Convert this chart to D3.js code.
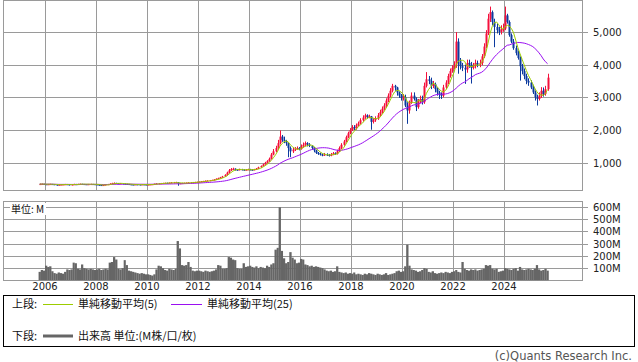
<!DOCTYPE html>
<html><head><meta charset="utf-8">
<script src="https://cdn.jsdelivr.net/npm/d3@7"></script>
<style>body{margin:0;background:#fff;} svg{display:block;}</style>
</head><body>
<svg id="c" width="638" height="362"></svg>
<script>
// ---------- DATA (monthly, Oct 2005 - Sep 2025) ----------
const startMonth = "2005-10";
const open = [
  335, 350, 355,
  345, 340, 345, 350, 345, 330, 325, 330, 335, 340, 345, 340,
  320, 335, 345, 340, 350, 355, 350, 345, 340, 345, 350, 345,
  340, 330, 320, 310, 320, 335, 345, 360, 375, 385, 370, 365,
  370, 360, 355, 350, 340, 335, 330, 340, 335, 330, 340, 335,
  330, 335, 340, 345, 355, 365, 370, 375, 380, 385, 380, 390,
  395, 400, 405, 360, 375, 380, 385, 390, 395, 400, 405, 410,
  415, 420, 430, 440, 450, 455, 465, 475, 490, 510, 530, 555,
  580, 630, 700, 770, 810, 820, 790, 780, 800, 790, 780, 790,
  800, 790, 780, 800, 820, 860, 900, 950, 1000, 1050, 1120, 1250,
  1350, 1450, 1600, 1800, 1700, 1650, 1600, 1450, 1350, 1400, 1430, 1450,
  1420, 1500, 1550, 1600, 1560, 1520, 1450, 1380, 1300, 1280, 1250, 1230,
  1250, 1240, 1220, 1260, 1290, 1270, 1350, 1450, 1550, 1650, 1780, 1900,
  2000, 2090, 2050, 2150, 2200, 2300, 2380, 2450, 2400, 2420, 2250, 2300,
  2350, 2450, 2550, 2650, 2750, 2900, 3050, 3200, 3350, 3300, 3150, 3050,
  2980, 3000, 2750, 2600, 2850, 3050, 2950, 2700, 2900, 2950, 2850, 3350,
  3550, 3500, 3350, 3400, 3250, 3150, 3100, 3050, 3300, 3450, 3650, 3800,
  3900, 4000, 4700, 4100, 3950, 3900, 3850, 4050, 4000, 3900, 3950, 4050,
  4000, 4050, 4250, 4550, 4950, 5400, 5600, 5300, 5150, 5050, 5000, 5100,
  5100, 5500, 5300, 4900, 4700, 4500, 4350, 4200, 3950, 3800, 3650, 3500,
  3450, 3300, 3150, 3000, 2950, 3050, 3200, 3100, 3250
];
const high = [
  365, 365, 360,
  350, 355, 360, 355, 350, 340, 340, 345, 350, 355, 350, 345,
  345, 360, 355, 360, 365, 360, 355, 350, 355, 360, 355, 350,
  345, 335, 325, 330, 345, 355, 375, 390, 400, 390, 380, 380,
  375, 370, 360, 355, 345, 340, 350, 345, 340, 350, 345, 340,
  340, 345, 350, 365, 375, 380, 385, 390, 395, 395, 400, 410,
  415, 420, 410, 385, 390, 395, 400, 405, 410, 415, 420, 425,
  430, 440, 450, 460, 465, 475, 485, 500, 525, 545, 570, 600,
  650, 730, 810, 840, 850, 830, 810, 820, 815, 805, 810, 820,
  815, 800, 815, 840, 880, 920, 975, 1030, 1080, 1160, 1300, 1420,
  1520, 1700, 1990, 1850, 1800, 1700, 1620, 1500, 1460, 1480, 1500, 1480,
  1560, 1620, 1650, 1630, 1600, 1540, 1480, 1400, 1330, 1310, 1280, 1300,
  1290, 1270, 1300, 1330, 1320, 1400, 1500, 1600, 1700, 1830, 1950, 2060,
  2150, 2150, 2200, 2260, 2360, 2450, 2500, 2480, 2470, 2430, 2360, 2420,
  2520, 2620, 2720, 2820, 2970, 3120, 3280, 3410, 3380, 3320, 3180, 3100,
  3100, 3080, 2850, 2900, 3150, 3150, 3000, 2950, 3050, 3050, 3450, 3770,
  3650, 3600, 3500, 3450, 3300, 3200, 3150, 3380, 3520, 3720, 3880, 3980,
  4100, 4990, 4800, 4200, 4050, 4000, 4150, 4150, 4080, 4050, 4150, 4120,
  4150, 4320, 4650, 5050, 5550, 5770, 5650, 5400, 5250, 5150, 5200, 5250,
  5770, 5550, 5350, 4950, 4780, 4580, 4430, 4250, 4020, 3880, 3720, 3580,
  3520, 3380, 3210, 3080, 3150, 3310, 3300, 3350, 3720
];
const low = [
  325, 340, 335,
  330, 335, 335, 335, 320, 315, 315, 325, 330, 335, 330, 310,
  315, 330, 330, 335, 345, 340, 335, 330, 335, 340, 335, 330,
  320, 305, 300, 305, 315, 330, 340, 355, 365, 355, 350, 355,
  345, 345, 340, 330, 325, 320, 325, 325, 320, 325, 325, 320,
  320, 325, 335, 340, 350, 355, 360, 365, 370, 365, 375, 380,
  385, 390, 300, 350, 365, 370, 375, 380, 385, 390, 395, 400,
  405, 410, 420, 430, 440, 445, 455, 465, 480, 500, 520, 545,
  570, 610, 680, 750, 780, 760, 760, 770, 770, 760, 770, 780,
  770, 760, 770, 790, 810, 850, 890, 940, 985, 1030, 1100, 1230,
  1320, 1420, 1560, 1640, 1600, 1520, 1170, 1170, 1300, 1360, 1400, 1380,
  1400, 1460, 1500, 1500, 1480, 1400, 1320, 1270, 1240, 1220, 1200, 1210,
  1210, 1190, 1200, 1230, 1240, 1250, 1330, 1420, 1520, 1620, 1750, 1870,
  1970, 2000, 2010, 2110, 2170, 2260, 2340, 2350, 2360, 2010, 2200, 2250,
  2310, 2410, 2500, 2600, 2700, 2850, 3000, 3150, 3200, 3050, 2980, 2900,
  2900, 2700, 2190, 2500, 2800, 2900, 2580, 2650, 2820, 2780, 2800, 3300,
  3400, 3250, 3280, 3150, 3050, 2950, 2950, 3000, 3250, 3400, 3600, 3750,
  3850, 3900, 3720, 3850, 3800, 3410, 3750, 3900, 3420, 3850, 3880, 3920,
  3920, 3980, 4200, 4500, 4900, 5300, 5200, 4530, 4950, 4900, 4920, 5000,
  5050, 5250, 4850, 4650, 4450, 4280, 4150, 3510, 3700, 3550, 3400, 3350,
  3250, 3100, 2900, 2750, 2900, 2980, 3020, 3050, 3200
];
const close = [
  350, 355, 345,
  340, 345, 350, 345, 330, 325, 330, 335, 340, 345, 340, 320,
  335, 345, 340, 350, 355, 350, 345, 340, 345, 350, 345, 340,
  330, 320, 310, 320, 335, 345, 360, 375, 385, 370, 365, 370,
  360, 355, 350, 340, 335, 330, 340, 335, 330, 340, 335, 330,
  335, 340, 345, 355, 365, 370, 375, 380, 385, 380, 390, 395,
  400, 405, 360, 375, 380, 385, 390, 395, 400, 405, 410, 415,
  420, 430, 440, 450, 455, 465, 475, 490, 510, 530, 555, 580,
  630, 700, 770, 810, 820, 790, 780, 800, 790, 780, 790, 800,
  790, 780, 800, 820, 860, 900, 950, 1000, 1050, 1120, 1250, 1350,
  1450, 1600, 1800, 1700, 1650, 1600, 1450, 1350, 1400, 1430, 1450, 1420,
  1500, 1550, 1600, 1560, 1520, 1450, 1380, 1300, 1280, 1250, 1230, 1250,
  1240, 1220, 1260, 1290, 1270, 1350, 1450, 1550, 1650, 1780, 1900, 2000,
  2090, 2050, 2150, 2200, 2300, 2380, 2450, 2400, 2420, 2250, 2300, 2350,
  2450, 2550, 2650, 2750, 2900, 3050, 3200, 3350, 3300, 3150, 3050, 2980,
  3000, 2750, 2600, 2850, 3050, 2950, 2700, 2900, 2950, 2850, 3350, 3550,
  3500, 3350, 3400, 3250, 3150, 3100, 3050, 3300, 3450, 3650, 3800, 3900,
  4000, 4700, 4100, 3950, 3900, 3850, 4050, 4000, 3900, 3950, 4050, 4000,
  4050, 4250, 4550, 4950, 5400, 5600, 5300, 5150, 5050, 5000, 5100, 5100,
  5500, 5300, 4900, 4700, 4500, 4350, 4200, 3950, 3800, 3650, 3500, 3450,
  3300, 3150, 3000, 2950, 3050, 3200, 3100, 3250, 3600
];
const volume = [ // millions
  70, 85, 80,
  120, 110, 115, 75, 60, 55, 65, 60, 55, 70, 90, 85,
  90, 145, 140, 95, 90, 130, 100, 95, 90, 95, 90, 85,
  90, 95, 85, 90, 95, 90, 145, 150, 190, 170, 95, 90,
  100, 165, 125, 80, 75, 70, 65, 60, 55, 60, 55, 50,
  50, 45, 40, 50, 90, 120, 115, 100, 85, 80, 95, 90,
  85, 95, 320, 260, 125, 120, 125, 150, 110, 80, 75, 80,
  80, 75, 70, 80, 75, 70, 75, 80, 90, 125, 120, 95,
  95, 100, 190, 185, 170, 165, 100, 95, 95, 140, 110, 115,
  120, 110, 105, 115, 100, 110, 105, 100, 120, 110, 130, 140,
  250, 265, 594, 240, 180, 140, 150, 230, 185, 170, 140, 145,
  175, 170, 130, 125, 115, 120, 110, 115, 110, 105, 100, 90,
  80, 75, 80, 70, 75, 115, 70, 65, 60, 65, 55, 60,
  55, 65, 50, 55, 50, 45, 55, 50, 60, 55, 50, 45,
  55, 50, 45, 50, 60, 45, 50, 55, 60, 75, 80, 70,
  75, 115, 290, 120, 90, 85, 80, 70, 75, 85, 100, 95,
  70, 65, 75, 60, 55, 60, 65, 60, 70, 65, 60, 70,
  75, 85, 70, 65, 150, 95, 85, 80, 90, 85, 90, 80,
  85, 90, 95, 125, 120, 125, 95, 90, 95, 70, 75, 80,
  100, 95, 90, 85, 95, 100, 80, 110, 90, 85, 90, 95,
  90, 85, 95, 125, 90, 80, 85, 95, 80
];
const yearTicks = [2006, 2008, 2010, 2012, 2014, 2016, 2018, 2020, 2022, 2024];
const priceTicks = [1000, 2000, 3000, 4000, 5000];
const volumeTicks = [100, 200, 300, 400, 500, 600];
const maShortN = 5, maLongN = 25;

// ---------- LAYOUT ----------
const L = 3.5, R = 582.5;
const top1 = 0.5, bot1 = 190.5;
const top2 = 201.5, bot2 = 280.5;
const gridColor = "#9a9a9a";
const upColor = "#f5103c", downColor = "#0c3a9e";
const maShortColor = "#9ccc00", maLongColor = "#9a10f0";
const volColor = "#666666";
const numFont = "DejaVu Sans, Verdana, sans-serif";
const jpFont = "'Noto Sans CJK JP', sans-serif";

const svg = d3.select("#c");
const parse = d3.timeParse("%Y-%m");
const dates = close.map((_, i) => d3.timeMonth.offset(parse(startMonth), i));
const mid = d => new Date(d.getTime() + 15 * 864e5);

const x = d3.scaleTime()
  .domain([new Date(2006, 0, 1), new Date(2024, 0, 1)])
  .range([45, 504]);
const y = d3.scaleLinear().domain([154, 5956]).range([bot1, top1]);
const yv = d3.scaleLinear().domain([0, 600]).range([bot2, 206.5]);

const sma = (arr, n) => arr.map((_, i) => d3.mean(arr.slice(Math.max(0, i - n + 1), i + 1)));
const maShort = sma(close, maShortN);
const maLong = sma(close, maLongN);

// clip paths
const defs = svg.append("defs");
defs.append("clipPath").attr("id", "clip1").append("rect")
  .attr("x", L).attr("y", top1).attr("width", R - L).attr("height", bot1 - top1);
defs.append("clipPath").attr("id", "clip2").append("rect")
  .attr("x", L).attr("y", top2).attr("width", R - L).attr("height", bot2 - top2);

const px = v => Math.round(v) + 0.5;

// ---------- PRICE PANEL ----------
const g1 = svg.append("g");
// vertical grid
g1.selectAll("line.vg").data(yearTicks).join("line")
  .attr("x1", d => px(x(new Date(d, 0, 1)))).attr("x2", d => px(x(new Date(d, 0, 1))))
  .attr("y1", top1).attr("y2", bot1)
  .attr("stroke", gridColor).attr("stroke-width", 1);
// horizontal grid + ticks
g1.selectAll("line.hg").data(priceTicks).join("line")
  .attr("x1", L).attr("x2", 588)
  .attr("y1", d => px(y(d))).attr("y2", d => px(y(d)))
  .attr("stroke", gridColor).attr("stroke-width", 1);
g1.selectAll("text.pl").data(priceTicks).join("text")
  .attr("x", 593).attr("y", d => y(d) + 4)
  .attr("font-family", numFont).attr("font-size", 10).attr("fill", "#222")
  .text(d => d3.format(",")(d));
g1.append("rect").attr("x", L).attr("y", top1).attr("width", R - L).attr("height", bot1 - top1)
  .attr("fill", "none").attr("stroke", gridColor);

const gc = svg.append("g").attr("clip-path", "url(#clip1)");
const idx = d3.range(close.length);
gc.selectAll("line.wick").data(idx).join("line")
  .attr("x1", i => Math.round(x(mid(dates[i]))) + 0.5)
  .attr("x2", i => Math.round(x(mid(dates[i]))) + 0.5)
  .attr("y1", i => y(high[i])).attr("y2", i => y(low[i]))
  .attr("stroke", i => close[i] >= open[i] ? upColor : downColor).attr("stroke-width", 1);
gc.selectAll("rect.body").data(idx).join("rect")
  .attr("x", i => Math.round(x(mid(dates[i]))) - 0.5)
  .attr("width", 2)
  .attr("y", i => y(Math.max(open[i], close[i])))
  .attr("height", i => Math.max(1, Math.abs(y(open[i]) - y(close[i]))))
  .attr("fill", i => close[i] >= open[i] ? upColor : downColor);

const lineGen = arr => d3.line().x((_, i) => x(mid(dates[i]))).y(d => y(d))(arr);
gc.append("path").attr("d", lineGen(maLong)).attr("fill", "none")
  .attr("stroke", maLongColor).attr("stroke-width", 1);
gc.append("path").attr("d", lineGen(maShort)).attr("fill", "none")
  .attr("stroke", maShortColor).attr("stroke-width", 1);

// ---------- VOLUME PANEL ----------
const g2 = svg.append("g");
g2.selectAll("line.vg").data(yearTicks).join("line")
  .attr("x1", d => px(x(new Date(d, 0, 1)))).attr("x2", d => px(x(new Date(d, 0, 1))))
  .attr("y1", top2).attr("y2", bot2)
  .attr("stroke", gridColor);
g2.selectAll("line.hg").data(volumeTicks).join("line")
  .attr("x1", L).attr("x2", 588)
  .attr("y1", d => px(yv(d))).attr("y2", d => px(yv(d)))
  .attr("stroke", gridColor);
g2.selectAll("text.vl").data(volumeTicks).join("text")
  .attr("x", 593).attr("y", d => yv(d) + 4)
  .attr("font-family", numFont).attr("font-size", 10).attr("fill", "#222")
  .text(d => d + "M");
const gv = svg.append("g").attr("clip-path", "url(#clip2)");
gv.selectAll("rect.vol").data(idx).join("rect")
  .attr("x", i => x(dates[i]))
  .attr("width", i => x(d3.timeMonth.offset(dates[i], 1)) - x(dates[i]) + 0.15)
  .attr("y", i => yv(volume[i]))
  .attr("height", i => bot2 - yv(volume[i]))
  .attr("fill", volColor);
g2.append("rect").attr("x", L).attr("y", top2).attr("width", R - L).attr("height", bot2 - top2)
  .attr("fill", "none").attr("stroke", gridColor);
// unit label
g2.append("rect").attr("x", 10).attr("y", 203).attr("width", 36).attr("height", 12).attr("fill", "#fff");
g2.append("text").attr("x", 11).attr("y", 213).attr("font-family", jpFont)
  .attr("font-size", 10).attr("fill", "#111").text("単位: M");

// year labels
svg.selectAll("text.yr").data(yearTicks).join("text")
  .attr("x", d => x(new Date(d, 0, 1))).attr("y", 290)
  .attr("text-anchor", "middle")
  .attr("font-family", numFont).attr("font-size", 10).attr("fill", "#222")
  .text(d => d);

// ---------- LEGEND ----------
const lg = svg.append("g");
lg.append("rect").attr("x", 3.5).attr("y", 295.5).attr("width", 631).attr("height", 51)
  .attr("fill", "none").attr("stroke", "#000");
lg.append("text").attr("x", 12).attr("y", 308).attr("font-family", jpFont).attr("font-size", 11)
  .attr("fill", "#111").text("上段:");
lg.append("line").attr("x1", 43).attr("x2", 73).attr("y1", 304.5).attr("y2", 304.5)
  .attr("stroke", maShortColor);
lg.append("text").attr("x", 78).attr("y", 308).attr("font-family", jpFont).attr("font-size", 11)
  .attr("fill", "#111").text("単純移動平均(" + maShortN + ")");
lg.append("line").attr("x1", 171).attr("x2", 202).attr("y1", 304.5).attr("y2", 304.5)
  .attr("stroke", maLongColor);
lg.append("text").attr("x", 207).attr("y", 308).attr("font-family", jpFont).attr("font-size", 11)
  .attr("fill", "#111").text("単純移動平均(" + maLongN + ")");
lg.append("text").attr("x", 12).attr("y", 339.5).attr("font-family", jpFont).attr("font-size", 11)
  .attr("fill", "#111").text("下段:");
lg.append("line").attr("x1", 43).attr("x2", 73).attr("y1", 336).attr("y2", 336)
  .attr("stroke", volColor).attr("stroke-width", 3);
lg.append("text").attr("x", 78).attr("y", 339.5).attr("font-family", jpFont).attr("font-size", 11)
  .attr("fill", "#111").text("出来高 単位:(M株/口/枚)");

svg.append("text").attr("x", 632).attr("y", 360).attr("text-anchor", "end")
  .attr("font-family", numFont).attr("font-size", 11.5).attr("fill", "#555")
  .text("(c)Quants Research Inc.");
</script>
</body></html>
